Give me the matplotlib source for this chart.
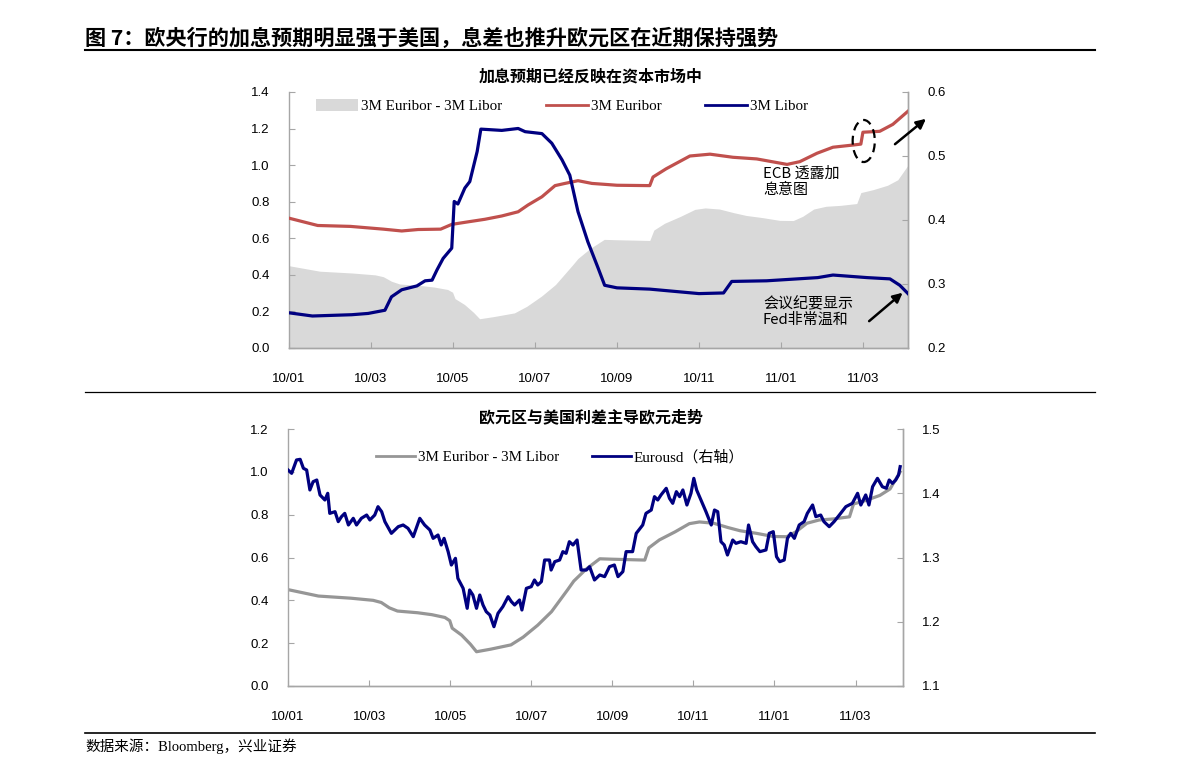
import matplotlib
matplotlib.use('Agg')
import matplotlib.pyplot as plt
from matplotlib.patches import Patch, Ellipse
from matplotlib.lines import Line2D

# ---------------- data (x = months since Jan 2010) ----------------
month_ticks = [0, 2, 4, 6, 8, 10, 12, 14]
month_labels = ['10/01', '10/03', '10/05', '10/07', '10/09', '10/11', '11/01', '11/03']

spread_x = [0.0, 0.75, 1.55, 2.1, 2.3, 2.5, 2.7, 3.2, 3.55, 3.87, 3.99, 4.05, 4.28, 4.5,
            4.65, 5.0, 5.5, 5.8, 6.16, 6.5, 6.9, 7.05, 7.35, 7.69, 8.0, 8.8, 8.9, 9.16,
            9.55, 9.9, 10.15, 10.5, 10.85, 11.15, 11.55, 11.97, 12.3, 12.53, 12.8, 13.1,
            13.45, 13.85, 13.95, 14.25, 14.6, 14.85, 15.1]
spread_v = [0.45, 0.42, 0.41, 0.40, 0.39, 0.365, 0.35, 0.342, 0.333, 0.32, 0.305, 0.27,
            0.238, 0.195, 0.16, 0.172, 0.192, 0.228, 0.284, 0.347, 0.45, 0.49, 0.545,
            0.594, 0.592, 0.588, 0.645, 0.682, 0.72, 0.758, 0.766, 0.76, 0.74, 0.725,
            0.713, 0.698, 0.697, 0.72, 0.76, 0.775, 0.78, 0.79, 0.85, 0.866, 0.89, 0.92,
            1.0]

euribor_x = [0, 0.7, 1.5, 2.3, 2.75, 3.15, 3.7, 3.97, 4.37, 4.78, 5.19, 5.59, 5.83, 6.17,
             6.49, 6.73, 7.05, 7.39, 7.7, 8.0, 8.8, 8.88, 9.2, 9.78, 10.27, 10.83, 11.41,
             12.15, 12.46, 12.88, 13.27, 13.76, 13.95, 14.0, 14.41, 14.73, 15.1]
euribor_v = [0.71, 0.67, 0.665, 0.65, 0.64, 0.648, 0.65, 0.676, 0.69, 0.704, 0.722, 0.745,
             0.782, 0.827, 0.888, 0.90, 0.915, 0.90, 0.895, 0.89, 0.888, 0.935, 0.98,
             1.05, 1.06, 1.043, 1.034, 1.004, 1.019, 1.065, 1.098, 1.11, 1.115, 1.18,
             1.185, 1.223, 1.295]

libor_x = [0, 0.57, 1.53, 1.93, 2.34, 2.5, 2.75, 3.12, 3.32, 3.49, 3.61, 3.76, 3.97, 4.03,
           4.12, 4.29, 4.41, 4.59, 4.68, 5.19, 5.59, 5.76, 6.17, 6.41, 6.66, 6.85, 7.05,
           7.29, 7.54, 7.7, 8.0, 8.8, 10.0, 10.6, 10.8, 11.65, 12.9, 13.27, 14.1, 14.66,
           14.9, 15.1]
libor_v = [0.255, 0.25, 0.252, 0.254, 0.259, 0.28, 0.291, 0.297, 0.305, 0.306, 0.322,
           0.34, 0.356, 0.429, 0.425, 0.45, 0.46, 0.507, 0.542, 0.54, 0.543, 0.538, 0.535,
           0.52, 0.494, 0.47, 0.413, 0.366, 0.325, 0.298, 0.294, 0.292, 0.285, 0.286,
           0.304, 0.305, 0.31, 0.314, 0.31, 0.308, 0.298, 0.285]

eurusd_x = [0.0, 0.09, 0.21, 0.3, 0.38, 0.46, 0.54, 0.62, 0.71, 0.79, 0.91, 0.98, 1.03,
            1.16, 1.24, 1.32, 1.4, 1.49, 1.61, 1.69, 1.81, 1.94, 2.02, 2.14, 2.22, 2.31,
            2.39, 2.55, 2.72, 2.84, 2.96, 3.09, 3.25, 3.37, 3.5, 3.58, 3.7, 3.78, 3.85,
            3.95, 4.03, 4.13, 4.19, 4.32, 4.42, 4.48, 4.56, 4.65, 4.73, 4.81, 4.89, 4.98,
            5.08, 5.18, 5.3, 5.43, 5.51, 5.59, 5.71, 5.77, 5.88, 6.0, 6.08, 6.16, 6.25,
            6.33, 6.45, 6.49, 6.58, 6.7, 6.78, 6.86, 6.94, 7.03, 7.13, 7.23, 7.36, 7.44,
            7.56, 7.69, 7.81, 7.93, 8.05, 8.14, 8.26, 8.34, 8.5, 8.59, 8.75, 8.83, 8.96,
            9.04, 9.12, 9.2, 9.33, 9.41, 9.49, 9.58, 9.66, 9.74, 9.84, 9.94, 10.01, 10.08,
            10.15, 10.31, 10.44, 10.52, 10.6, 10.68, 10.76, 10.84, 10.97, 11.05, 11.17,
            11.3, 11.36, 11.46, 11.54, 11.64, 11.79, 11.87, 11.97, 12.05, 12.13, 12.24,
            12.32, 12.4, 12.49, 12.61, 12.73, 12.81, 12.94, 13.02, 13.14, 13.22, 13.35,
            13.47, 13.6, 13.76, 13.92, 14.05, 14.13, 14.25, 14.33, 14.42, 14.54, 14.66,
            14.76, 14.83, 14.91, 14.99, 15.06, 15.1]
eurusd_zy = [135, 145, 105, 103, 130, 135, 195, 170, 165, 210, 225, 205, 265, 260, 290,
             275, 265, 300, 280, 300, 280, 270, 285, 270, 245, 260, 290, 325, 305, 300,
             310, 335, 280, 300, 315, 340, 330, 360, 340, 380, 420, 400, 460, 490, 550,
             495, 510, 550, 510, 540, 560, 570, 605, 565, 545, 515, 530, 540, 525, 555,
             490, 485, 465, 480, 470, 405, 405, 435, 410, 405, 380, 385, 350, 360, 345,
             435, 435, 425, 465, 450, 455, 425, 420, 455, 440, 380, 380, 325, 300, 265,
             255, 215, 225, 210, 190, 220, 235, 200, 215, 195, 240, 205, 160, 195, 215,
             260, 300, 255, 260, 350, 360, 390, 345, 355, 350, 355, 300, 350, 365, 380,
             375, 325, 320, 395, 410, 405, 340, 325, 340, 300, 290, 265, 240, 275, 270,
             290, 305, 290, 270, 245, 235, 205, 240, 210, 240, 185, 160, 185, 190, 165,
             175, 165, 150, 125]
# EUR/USD values
eurusd_v = [round(1.1 + 0.4 * (261 - z / 3) / 257, 4) for z in eurusd_zy]

plt.rcParams['font.family'] = ['Liberation Sans', 'Noto Sans CJK SC', 'DejaVu Sans']

W, H = 1191, 774
fig = plt.figure(figsize=(W / 100, H / 100), dpi=100)

def fx(px):
    return px / W

def fy(py):
    return 1 - py / H

GRID = '#a6a6a6'
RED = '#c0504d'
NAVY = '#000080'
FILL = '#d9d9d9'
GLINE = '#969696'
CJK = ['Noto Sans CJK SC', 'DejaVu Sans']
SERIF = ['Liberation Serif', 'Noto Sans CJK SC']

# Header
fig.text(fx(85), fy(38), '图 7：欧央行的加息预期明显强于美国，息差也推升欧元区在近期保持强势',
         fontsize=15.2, fontweight='bold', family=CJK, va='center', ha='left')
fig.add_artist(Line2D([fx(85), fx(1095)], [fy(50), fy(50)], color='black', lw=1.5))
fig.add_artist(Line2D([fx(85), fx(1095)], [fy(392), fy(392)], color='black', lw=0.9))
fig.add_artist(Line2D([fx(85), fx(1095)], [fy(733), fy(733)], color='black', lw=1.2))
fig.text(fx(85), fy(746), '数据来源：Bloomberg，兴业证券', fontsize=10.5,
         family=SERIF, va='center', ha='left')


def style_axes(ax, axr, xmax):
    ax.set_xlim(0, xmax)
    for a in (ax, axr):
        a.spines['top'].set_visible(False)
        for s in ('left', 'right', 'bottom'):
            a.spines[s].set_color(GRID)
            a.spines[s].set_linewidth(1.0)
        a.tick_params(direction='in', length=4, color=GRID, labelsize=9.5,
                      labelcolor='black', width=0.8)
    axr.spines['left'].set_visible(False)
    ax.tick_params(axis='y', pad=14)
    axr.tick_params(axis='y', pad=14)
    ax.tick_params(axis='x', pad=18)
    ax.set_xticks(month_ticks)
    ax.set_xticklabels(month_labels)


# ---------------- top chart ----------------
ax1 = fig.add_axes([fx(289), fy(348), fx(908) - fx(289), fy(92) - fy(348)])
ax1r = ax1.twinx()
ax1.fill_between(spread_x, 0, spread_v, color=FILL, lw=0, zorder=1)
ax1.plot(euribor_x, euribor_v, color=RED, lw=2.3, zorder=3)
ax1r.plot(libor_x, libor_v, color=NAVY, lw=2.3, zorder=3)
ax1.set_ylim(0, 1.4)
ax1.set_yticks([0, 0.2, 0.4, 0.6, 0.8, 1.0, 1.2, 1.4])
ax1.set_yticklabels(['0.0', '0.2', '0.4', '0.6', '0.8', '1.0', '1.2', '1.4'])
ax1r.set_ylim(0.2, 0.6)
ax1r.set_yticks([0.2, 0.3, 0.4, 0.5, 0.6])
ax1r.set_yticklabels(['0.2', '0.3', '0.4', '0.5', '0.6'])
style_axes(ax1, ax1r, 15.1)
fig.text(fx(591), fy(76), '加息预期已经反映在资本市场中', fontsize=11.5, fontweight='bold',
         family=CJK, ha='center', va='center')

h1 = [Patch(facecolor=FILL, edgecolor='none'),
      Line2D([], [], color=RED, lw=2),
      Line2D([], [], color=NAVY, lw=2)]
leg1 = ax1r.legend(h1, ['3M Euribor - 3M Libor', '3M Euribor', '3M Libor'], ncol=3,
                   loc='center', bbox_to_anchor=(0.441, 0.945), frameon=False,
                   prop={'family': SERIF, 'size': 10.8}, handlelength=2.8,
                   handleheight=0.9, columnspacing=2.9, handletextpad=0.2)

# annotations (left-axis data coordinates)
ax1r.text(11.56, 0.995, 'ECB 透露加\n息意图', fontsize=10.8, family=['Noto Sans CJK SC'],
          transform=ax1.transData, va='top', ha='left', linespacing=1.2, zorder=5)
ax1r.text(11.56, 0.283, '会议纪要显示\nFed非常温和', fontsize=10.8, family=['Noto Sans CJK SC'],
          transform=ax1.transData, va='top', ha='left', linespacing=1.2, zorder=5)
ell = Ellipse((14.02, 1.132), 0.54, 0.23, transform=ax1.transData, fill=False,
              edgecolor='black', lw=1.6, ls=(0, (4, 2.5)), zorder=6)
ax1r.add_patch(ell)
ax1r.annotate('', xy=(15.59, 1.263), xytext=(14.73, 1.105), xycoords=ax1.transData,
              textcoords=ax1.transData,
              arrowprops=dict(arrowstyle='-|>', color='black', lw=1.8, mutation_scale=14),
              annotation_clip=False)
ax1r.annotate('', xy=(15.02, 0.312), xytext=(14.10, 0.137), xycoords=ax1.transData,
              textcoords=ax1.transData,
              arrowprops=dict(arrowstyle='-|>', color='black', lw=1.8, mutation_scale=14),
              annotation_clip=False)

# ---------------- bottom chart ----------------
ax2 = fig.add_axes([fx(288), fy(686), fx(903) - fx(288), fy(429) - fy(686)])
ax2r = ax2.twinx()
ax2.plot(spread_x, spread_v, color=GLINE, lw=2.3, zorder=2)
ax2r.plot(eurusd_x, eurusd_v, color=NAVY, lw=2.3, zorder=3)
ax2.set_ylim(0, 1.2)
ax2.set_yticks([0, 0.2, 0.4, 0.6, 0.8, 1.0, 1.2])
ax2.set_yticklabels(['0.0', '0.2', '0.4', '0.6', '0.8', '1.0', '1.2'])
ax2r.set_ylim(1.1, 1.5)
ax2r.set_yticks([1.1, 1.2, 1.3, 1.4, 1.5])
ax2r.set_yticklabels(['1.1', '1.2', '1.3', '1.4', '1.5'])
style_axes(ax2, ax2r, 15.17)
fig.text(fx(591), fy(417), '欧元区与美国利差主导欧元走势', fontsize=11.5, fontweight='bold',
         family=CJK, ha='center', va='center')

h2 = [Line2D([], [], color=GLINE, lw=2), Line2D([], [], color=NAVY, lw=2)]
leg2 = ax2r.legend(h2, ['3M Euribor - 3M Libor', 'Eurousd（右轴）'], ncol=2,
                   loc='center', bbox_to_anchor=(0.442, 0.891), frameon=False,
                   prop={'family': SERIF, 'size': 10.8}, handlelength=2.6,
                   columnspacing=2.2, handletextpad=0.2)

fig.savefig('out.png', dpi=100)
